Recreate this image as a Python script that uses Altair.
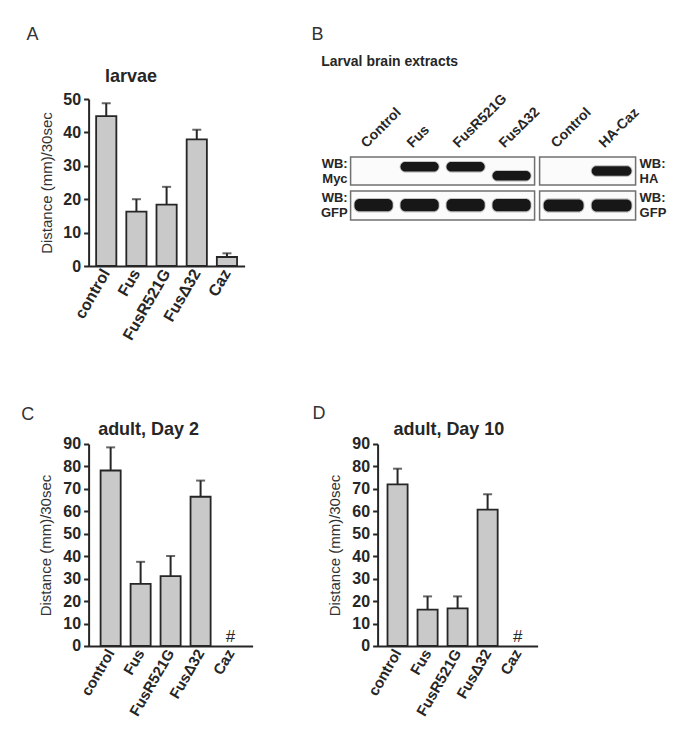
import altair as alt
import pandas as pd

FONT = "Liberation Sans"
INK = "#262626"
BAR_FILL = "#c9c9c9"

# ---------------- bar chart data (A, C, D) ----------------
cats = ["control", "Fus", "FusR521G", "FusΔ32", "Caz"]

larvae_mean = [44.9, 16.3, 18.4, 37.9, 2.7]
larvae_upper = [48.7, 20.0, 23.7, 40.8, 3.8]

day2_mean = [78.2, 27.7, 31.1, 66.5, None]
day2_upper = [88.5, 37.5, 40.1, 73.7, None]

day10_mean = [72.0, 16.2, 16.8, 60.8, None]
day10_upper = [79.0, 22.1, 22.1, 67.6, None]

no_data_cats = ["Caz"]
no_data_symbol = ["#"]

y_title = "Distance (mm)/30sec"
panel_letters = ["A", "B", "C", "D"]
panel_titles = ["larvae", "Larval brain extracts", "adult, Day 2", "adult, Day 10"]

# ---------------- western blot data (B) ----------------
left_lanes = ["Control", "Fus", "FusR521G", "FusΔ32"]
myc_signal = [0, 1, 1, 1]
myc_migration = [0.35, 0.35, 0.35, 0.67]
gfp_left_signal = [1, 1, 1, 1]
gfp_left_migration = [0.49, 0.49, 0.49, 0.49]

right_lanes = ["Control", "HA-Caz"]
ha_signal = [0, 1]
ha_migration = [0.5, 0.5]
gfp_right_signal = [1, 1]
gfp_right_migration = [0.5, 0.5]

probe_labels = [("WB:", "Myc"), ("WB:", "GFP"), ("WB:", "HA"), ("WB:", "GFP")]


def text_layer(txt, x, y, size, weight="normal", align="left", baseline="top", color=INK):
    return alt.Chart(pd.DataFrame({"t": [txt]})).mark_text(
        align=align, baseline=baseline, fontSize=size, fontWeight=weight,
        color=color, font=FONT,
    ).encode(text="t:N", x=alt.value(x), y=alt.value(y))


def bar_panel(means, uppers, ymax, width, height, pad_outer, letter, letter_xy,
              title, title_xy, hash_cats=None, title_pad=8, xlabel_size=15):
    df = pd.DataFrame({"cat": cats, "mean": means, "upper": uppers})
    xenc = alt.X(
        "cat:N", sort=cats,
        scale=alt.Scale(domain=cats, paddingInner=0.33, paddingOuter=pad_outer),
        axis=alt.Axis(title=None, labelAngle=-60, labelFontSize=xlabel_size, labelFontWeight="bold",
                      labelColor=INK, ticks=False, domainWidth=2, domainColor=INK,
                      labelPadding=4, labelOverlap=False, labelFont=FONT),
    )
    yscale = alt.Scale(domain=[0, ymax], nice=False, zero=True)
    yaxis = alt.Axis(values=list(range(0, ymax + 1, 10)), grid=False, title=y_title,
                     titleFontSize=15, titleFontWeight="normal", titleColor="#333333",
                     titlePadding=title_pad, titleFont=FONT,
                     labelFontSize=16, labelFontWeight="bold", labelColor=INK, labelFont=FONT,
                     labelPadding=3, tickSize=5, tickWidth=2, tickColor=INK,
                     domainWidth=2, domainColor=INK)
    base = alt.Chart(df).encode(x=xenc)
    bars = base.mark_bar(fill=BAR_FILL, stroke=INK, strokeWidth=1.8).encode(
        y=alt.Y("mean:Q", scale=yscale, axis=yaxis))
    err = base.mark_rule(color=INK, strokeWidth=2).encode(
        y=alt.Y("mean:Q", scale=yscale, axis=yaxis), y2="upper:Q")
    cap = base.mark_tick(color=INK, thickness=2, size=9).encode(
        y=alt.Y("upper:Q", scale=yscale, axis=yaxis))
    layers = [bars, err, cap]
    if hash_cats:
        hdf = pd.DataFrame({"cat": hash_cats, "sym": no_data_symbol, "base": [0] * len(hash_cats)})
        layers.append(
            alt.Chart(hdf).mark_text(fontSize=17, dy=-9, baseline="middle", color=INK, font=FONT)
            .encode(x=xenc, y=alt.Y("base:Q", scale=yscale, axis=yaxis), text="sym:N"))
    layers.append(text_layer(title, title_xy[0], title_xy[1], 18, "bold", "center", "alphabetic"))
    layers.append(text_layer(letter, letter_xy[0], letter_xy[1], 18, "normal", "left", "top", "#333333"))
    return alt.layer(*layers).properties(width=width, height=height)


def strip(lanes, signal, migration, half, label, label_side, width, height, show_lanes):
    df = pd.DataFrame({"lane": lanes, "signal": signal, "mig": migration})
    df = df[df["signal"] > 0].copy()
    df["top"] = df["mig"] - half
    df["bottom"] = df["mig"] + half
    df["htop"] = df["mig"] - half - 0.04
    df["hbottom"] = df["mig"] + half + 0.04
    if show_lanes:
        xaxis = alt.Axis(orient="top", title=None, labelAngle=-45, labelAlign="left",
                         labelBaseline="bottom", labelOffset=-5, labelPadding=7, ticks=False,
                         tickSize=0, domain=False, labelFontSize=14, labelFontWeight="bold",
                         labelColor=INK, labelOverlap=False, labelFont=FONT)
    else:
        xaxis = None
    xenc = alt.X("lane:N", sort=lanes,
                 scale=alt.Scale(domain=lanes, paddingInner=0, paddingOuter=0), axis=xaxis)
    yscale = alt.Scale(domain=[0, 1], reverse=True, nice=False, zero=False)
    base = alt.Chart(df).encode(x=xenc)
    halo = base.mark_bar(color="#4a4a4a", opacity=0.3, cornerRadius=6,
                         width=alt.RelativeBandSize(0.87)).encode(
        y=alt.Y("htop:Q", scale=yscale, axis=None), y2="hbottom:Q")
    core = base.mark_bar(color="#171717", cornerRadius=5,
                         width=alt.RelativeBandSize(0.83)).encode(
        y=alt.Y("top:Q", scale=yscale, axis=None), y2="bottom:Q")
    if label_side == "left":
        lx, al = -3, "right"
    else:
        lx, al = width + 4, "left"
    lab1 = text_layer(label[0], lx, 6.5, 13, "bold", al, "middle")
    lab2 = text_layer(label[1], lx, 22, 13, "bold", al, "middle")
    return alt.layer(halo, core, lab1, lab2).properties(
        width=width, height=height,
        view=alt.ViewBackground(stroke="#707070", strokeWidth=1.5, fill="#fbfbfb"))


# ---------------- panels ----------------
A = bar_panel(larvae_mean, larvae_upper, 50, 156, 167, 0.25,
              panel_letters[0], (-62, -73), panel_titles[0], (42.3, -17.3), title_pad=8,
              xlabel_size=16)
C = bar_panel(day2_mean, day2_upper, 90, 164, 202, 0.4,
              panel_letters[2], (-67.4, -38), panel_titles[2], (60, -9), no_data_cats, title_pad=9)
D = bar_panel(day10_mean, day10_upper, 90, 160, 202, 0.33,
              panel_letters[3], (-65, -39), panel_titles[3], (71.3, -9), no_data_cats, title_pad=9)

L1 = strip(left_lanes, myc_signal, myc_migration, 0.17, probe_labels[0], "left", 184, 28, True)
L2 = strip(left_lanes, gfp_left_signal, gfp_left_migration, 0.21, probe_labels[1], "left", 184, 29, False)
R1 = strip(right_lanes, ha_signal, ha_migration, 0.17, probe_labels[2], "right", 96, 28, True)
R2 = strip(right_lanes, gfp_right_signal, gfp_right_migration, 0.21, probe_labels[3], "right", 96, 29, False)

B_title = alt.layer(
    text_layer(panel_letters[1], -39, -73, 18, "normal", "left", "top", "#333333"),
    text_layer(panel_titles[1], -29.3, -37.3, 14, "bold", "left", "middle"),
).properties(width=285, height=48)

B_left = alt.vconcat(L1, L2, spacing=6, bounds="flush")
B_right = alt.vconcat(R1, R2, spacing=6, bounds="flush")
B_blots = alt.hconcat(B_left, B_right, spacing=189, bounds="flush")
B = alt.vconcat(B_title, B_blots, spacing=10, bounds="flush")

top = alt.hconcat(A, B, spacing=106, bounds="flush")
bottom = alt.hconcat(C, D, spacing=125, bounds="flush")

chart = alt.vconcat(top, bottom, spacing=345, bounds="flush").properties(
    padding={"left": 12.6, "top": 18, "right": 5, "bottom": 5}
).configure(font=FONT).configure_view(stroke=None)

chart.save("out.html", embed_options={"renderer": "svg", "actions": False})
